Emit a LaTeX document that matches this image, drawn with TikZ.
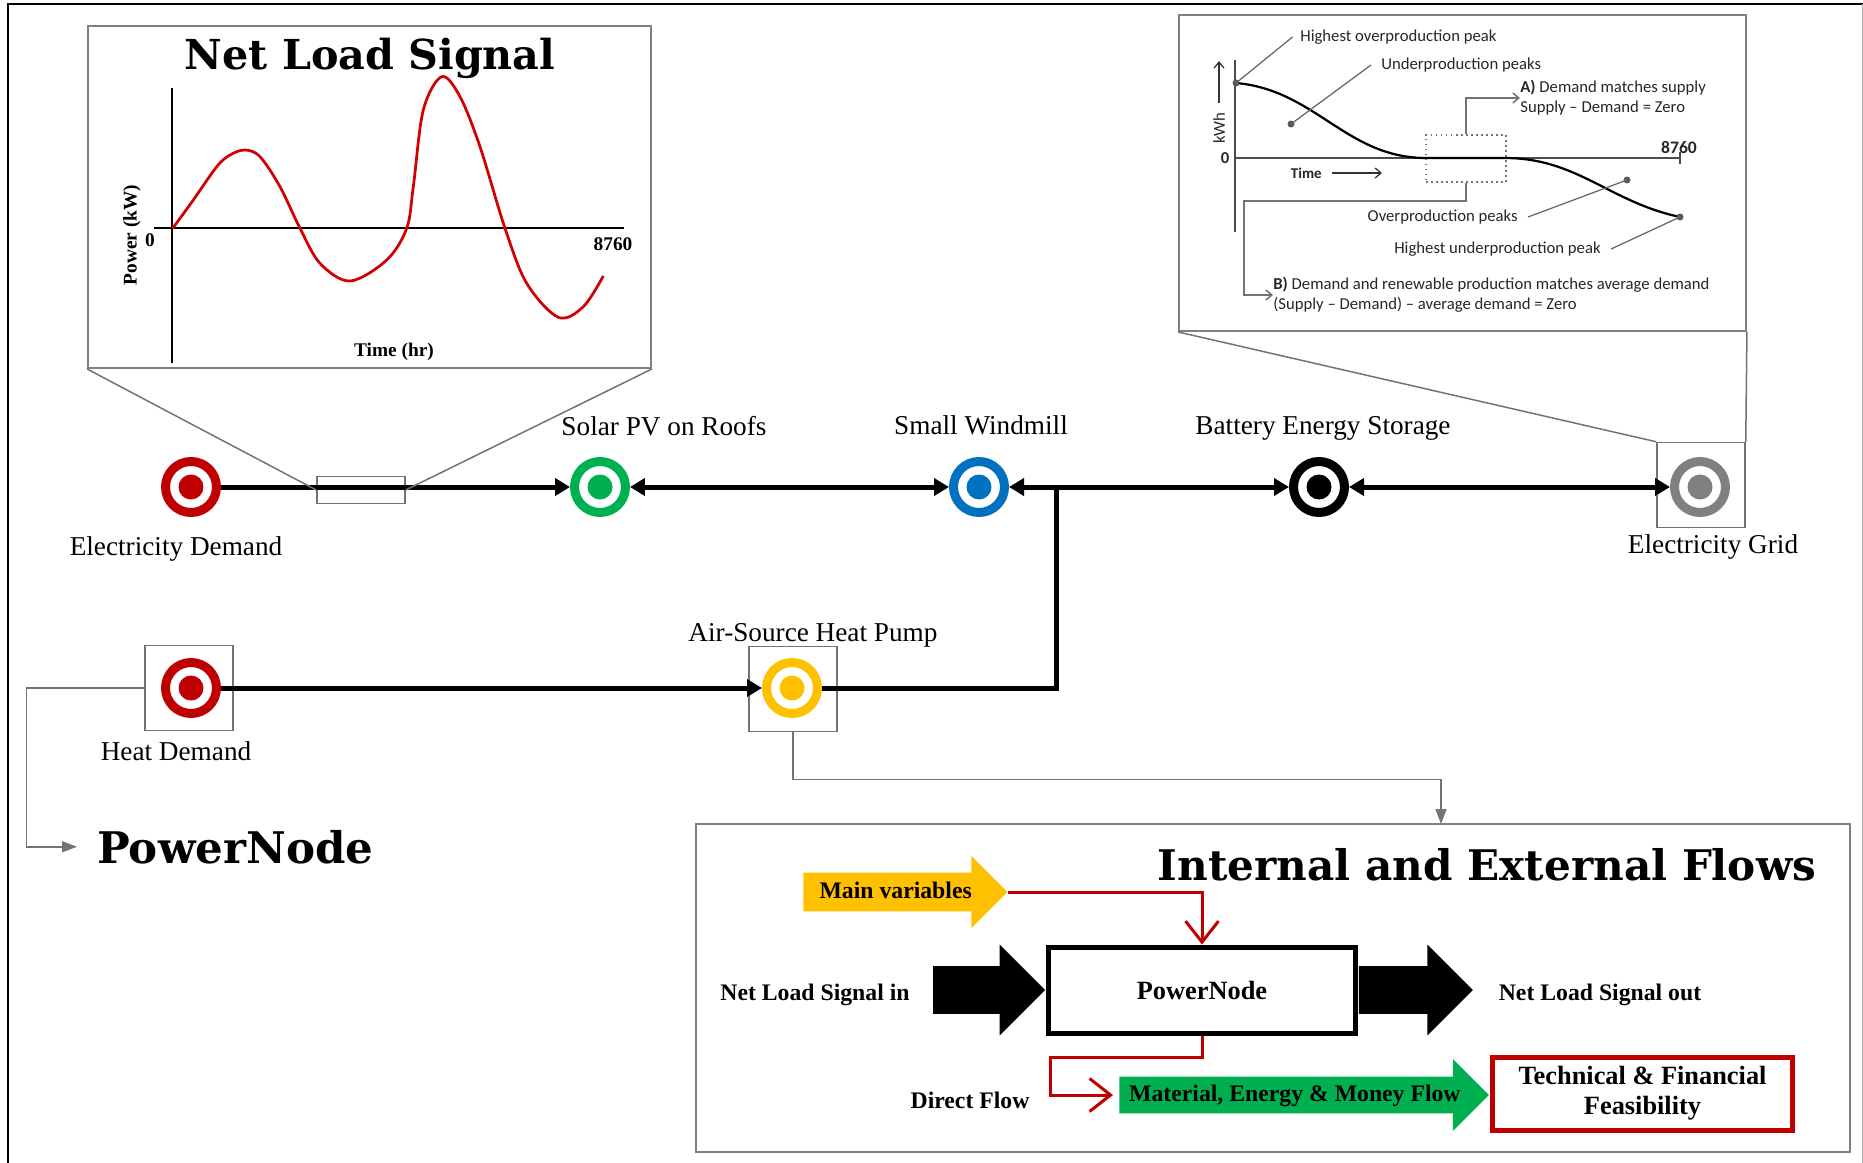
\documentclass[tikz,border=0pt]{standalone}
\usepackage{fontspec}
\setmainfont{Liberation Serif}
\newfontfamily\headfont{DejaVu Serif}
\newfontfamily\calfont[Ligatures=TeX]{Carlito}
\usetikzlibrary{arrows.meta,shapes.arrows}
\definecolor{demandred}{RGB}{192,0,0}
\definecolor{curvered}{RGB}{210,0,0}
\definecolor{pvgreen}{RGB}{0,176,80}
\definecolor{windblue}{RGB}{0,112,192}
\definecolor{pumpyellow}{RGB}{255,192,0}
\definecolor{gridgray}{RGB}{128,128,128}
\tikzset{
    target/.style={circle,draw=#1,line width=0.18cm,minimum size=1.02cm,inner sep=0pt,
        path picture={\fill[#1] (path picture bounding box.center) circle (0.25cm);}},
    ringbox/.style={rectangle,draw=black!55,line width=0.03cm,minimum width=1.76cm,minimum height=1.7cm,inner sep=0pt},
    insetbox/.style={rectangle,draw=black!50,line width=0.04cm,inner sep=0pt},
    tlabel/.style={font=\fontsize{15.5}{18}\selectfont,inner sep=0pt,anchor=base},
    mainline/.style={line width=0.1cm},
    mainarrow/.style={mainline,-{Triangle[length=0.3cm,width=0.34cm]}},
    mainboth/.style={mainline,{Triangle[length=0.3cm,width=0.34cm]}-{Triangle[length=0.3cm,width=0.34cm]}},
    thinlink/.style={draw=black!55,line width=0.03cm},
    thinarrow/.style={thinlink,-{Triangle[length=0.3cm,width=0.22cm]}},
    redflow/.style={draw=demandred,line width=0.06cm,-{Straight Barb[length=0.42cm,width=0.66cm]}},
    bigarrow/.style={single arrow,inner xsep=0pt,text height=0.34cm,text depth=0.1cm,single arrow head indent=0pt,
        font=\bfseries\fontsize{13.5}{16}\selectfont},
    flowtext/.style={font=\bfseries\fontsize{13.5}{16}\selectfont,inner sep=0pt},
    chartlabel/.style={font=\bfseries\fontsize{11}{13}\selectfont,inner sep=0pt},
    caltext/.style={font=\calfont\fontsize{9.5}{11.4}\selectfont,text=black!85,inner sep=0pt,align=left},
    leader/.style={draw=black!60,line width=0.025cm},
    peakdot/.style={fill=black!65}
}
\begin{document}
\begin{tikzpicture}[x=0.02cm,y=-0.02cm]
    \useasboundingbox (0,0) rectangle (1863,1163);
    \draw[line width=0.04cm] (8,1163) -- (8,4) -- (1863,4);
    \draw[black!30,line width=0.02cm] (1862,4) -- (1862,1163);

    % net load signal inset
    \node[insetbox,minimum width=11.26cm,minimum height=6.84cm] (nlbox) at (369.5,197) {};
    \node[font=\headfont\bfseries\fontsize{23.5}{28}\selectfont,inner sep=0pt,anchor=base] (nltitle) at (370,69) {Net Load Signal};
    \draw[line width=0.03cm] (172,88) -- (172,363);
    \draw[line width=0.03cm] (154,228) -- (624,228);
    \draw[curvered,line width=0.055cm] plot[smooth,tension=0.55] coordinates {(172.7,228.3) (193.3,200) (216.7,166.7)
        (230,155) (245,150) (260,156.7) (280,186.7) (300,228.3) (320,263.3) (350,281) (386.7,260) (406.7,228.3)
        (413.3,186.7) (423.3,110) (441.7,76.7) (460,96.7) (480,146.7) (505,228.3) (526.7,283.3) (558.3,317.3)
        (583.3,306.7) (603.3,276)};
    \node[chartlabel] (nlzero) at (150,240) {0};
    \node[chartlabel] (nlend) at (613,244) {8760};
    \node[chartlabel,rotate=90] (nlyaxis) at (132,235) {Power (kW)};
    \node[chartlabel] (nlxaxis) at (394,352) {Time (hr)};

    % supply and demand inset
    \node[insetbox,minimum width=11.34cm,minimum height=6.32cm] (rtbox) at (1462.5,173) {};
    \draw[black!70,line width=0.03cm] (1235,60) -- (1235,232);
    \draw[black!70,line width=0.03cm] (1235,158) -- (1680,158);
    \draw[black!70,line width=0.03cm] (1680,152) -- (1680,164);
    \draw[line width=0.045cm] (1236,83) to[out=-5,in=180] (1426,158) -- (1505,158) to[out=0,in=168] (1680,217);
    \node[caltext,font=\calfont\bfseries\fontsize{9.5}{11.4}\selectfont] (kzero) at (1225,158) {0};
    \node[caltext,font=\calfont\bfseries\fontsize{10}{12}\selectfont] (kend) at (1679,147) {8760};
    \node[caltext,font=\calfont\bfseries\fontsize{8.5}{10}\selectfont,anchor=east] (ktime) at (1322,173) {Time};
    \draw[black!80,line width=0.025cm,-{Straight Barb[length=0.12cm,width=0.2cm]}] (ktime.east) ++(10,0) -- ++(50,0);
    \node[caltext,rotate=90,anchor=west] (kwh) at (1219,144) {kWh};
    \draw[black!80,line width=0.025cm,-{Straight Barb[length=0.12cm,width=0.2cm]}] (kwh.east) ++(0,-9) -- ++(0,-42);
    \node[draw=black!55,dotted,line width=0.03cm,minimum width=1.6cm,minimum height=0.94cm,inner sep=0pt] (dotrect) at (1466,158.5) {};
    \node[caltext,anchor=west] (atext) at (1520,98) {\textbf{A)} Demand matches supply\\Supply – Demand = Zero};
    \node[caltext,anchor=west] (btext) at (1273,295) {\textbf{B)} Demand and renewable production matches average demand\\(Supply – Demand) – average demand = Zero};
    \coordinate (bbend) at (1244,201);
    \draw[thinlink,-{Straight Barb[length=0.12cm,width=0.2cm]}] (dotrect.north) |- (atext.west);
    \draw[thinlink,-{Straight Barb[length=0.12cm,width=0.2cm]}] (dotrect.south) |- (bbend) |- (btext.west);
    \node[caltext,anchor=west] (hop) at (1300,37) {Highest overproduction peak};
    \node[caltext,anchor=west] (up) at (1381,65) {Underproduction peaks};
    \node[caltext,anchor=east] (op) at (1518,217) {Overproduction peaks};
    \node[caltext,anchor=east] (hup) at (1601,249) {Highest underproduction peak};
    \fill[peakdot] (1236,83) circle (0.07cm);
    \fill[peakdot] (1291,124) circle (0.07cm);
    \fill[peakdot] (1627,180) circle (0.07cm);
    \fill[peakdot] (1680,217) circle (0.07cm);
    \draw[leader] (1236,83) -- ([xshift=-0.15cm]hop.west);
    \draw[leader] (1291,124) -- ([xshift=-0.2cm]up.west);
    \draw[leader] ([xshift=0.2cm]op.east) -- (1627,180);
    \draw[leader] ([xshift=0.2cm]hup.east) -- (1680,217);

    % electricity line
    \node[target=demandred] (ed) at (191,487) {};
    \node[target=pvgreen] (pv) at (600,487) {};
    \node[target=windblue] (wind) at (979,487) {};
    \node[target=black] (batt) at (1319,487) {};
    \node[target=gridgray] (grid) at (1700,487) {};
    \node[ringbox] (gridbox) at (1701,485) {};
    \node[draw=black!55,line width=0.03cm,minimum width=1.76cm,minimum height=0.54cm,inner sep=0pt] (zoomrect) at (361,490) {};
    \node[tlabel] (edlabel) at (176,555) {Electricity Demand};
    \node[tlabel] (pvlabel) at (664,435) {Solar PV on Roofs};
    \node[tlabel] (windlabel) at (981,434) {Small Windmill};
    \node[tlabel] (battlabel) at (1323,434) {Battery Energy Storage};
    \node[tlabel] (gridlabel) at (1713,553) {Electricity Grid};

    % heat line
    \node[target=demandred] (hd) at (191,688) {};
    \node[target=pumpyellow] (ashp) at (792,688) {};
    \node[ringbox] (hdbox) at (189,688) {};
    \node[ringbox] (ashpbox) at (793,689) {};
    \node[tlabel] (hdlabel) at (176,760) {Heat Demand};
    \node[tlabel] (ashplabel) at (813,641) {Air-Source Heat Pump};
    \coordinate (junc) at (1056,487);

    \draw[mainarrow] (ed) -- (pv);
    \draw[mainboth] (pv) -- (wind);
    \draw[mainboth] (wind) -- (batt);
    \draw[mainboth] (batt) -- (grid);
    \draw[mainarrow] (hd) -- (ashp);
    \draw[mainline] (ashp) -| (junc);

    \draw[thinlink] (nlbox.south west) -- (zoomrect.west);
    \draw[thinlink] (nlbox.south east) -- (zoomrect.east);
    \draw[thinlink] (rtbox.south west) -- (gridbox.north west);
    \draw[thinlink] (rtbox.south east) -- (gridbox.north east);

    % powernode legend
    \node[font=\headfont\bfseries\fontsize{24.8}{29}\selectfont,inner sep=0pt,anchor=base west] (pnlabel) at (97,863) {PowerNode};
    \draw[thinarrow,shorten >=0.4cm] (hdbox.west) -- ++(-118,0) |- (pnlabel.west);

    % internal and external flows
    \node[rectangle,draw=black!50,line width=0.03cm,minimum width=23.08cm,minimum height=6.56cm,inner sep=0pt] (flowbox) at (1273,988) {};
    \coordinate (flowdrop) at (1441,824);
    \draw[thinarrow] (ashpbox.south) -- ++(0,47) -| (flowdrop);
    \node[font=\headfont\bfseries\fontsize{24}{28}\selectfont,inner sep=0pt,anchor=base] (flowtitle) at (1487,880) {Internal and External Flows};
    \node[draw,line width=0.1cm,minimum width=6.16cm,minimum height=1.72cm,font=\bfseries\fontsize{15}{18}\selectfont] (pnbox) at (1202,990) {PowerNode};
    \node[bigarrow,fill=pumpyellow,inner ysep=0.16cm,single arrow head extend=0.33cm,minimum height=4.08cm,anchor=tail] (mainvar) at (803,892) {Main variables};
    \node[bigarrow,fill=black,inner ysep=0.25cm,single arrow head extend=0.43cm,minimum height=2.24cm,anchor=tip] (nlin) at (pnbox.west) {};
    \node[bigarrow,fill=black,inner ysep=0.25cm,single arrow head extend=0.43cm,minimum height=2.28cm,anchor=tail] (nlout) at (pnbox.east) {};
    \node[bigarrow,fill=pvgreen,inner ysep=0.14cm,single arrow head extend=0.35cm,minimum height=7.39cm,anchor=tail] (mat) at (1119,1095) {Material, Energy \& Money Flow};
    \node[draw=demandred,line width=0.1cm,minimum width=6.02cm,minimum height=1.46cm,align=center,font=\bfseries\fontsize{15}{17}\selectfont] (feas) at (1642.5,1093.5) {Technical \& Financial\\Feasibility};
    \node[flowtext] (nlintext) at (815,995) {Net Load Signal in};
    \node[flowtext] (nlouttext) at (1600,995) {Net Load Signal out};
    \node[flowtext] (dftext) at (970,1100) {Direct Flow};
    \coordinate (dfbend) at (1050,1057);
    \draw[redflow] (mainvar.tip) -| (pnbox.north);
    \draw[redflow,shorten >=0.12cm] (pnbox.south) |- (dfbend) |- (mat.tail);
\end{tikzpicture}
\end{document}
